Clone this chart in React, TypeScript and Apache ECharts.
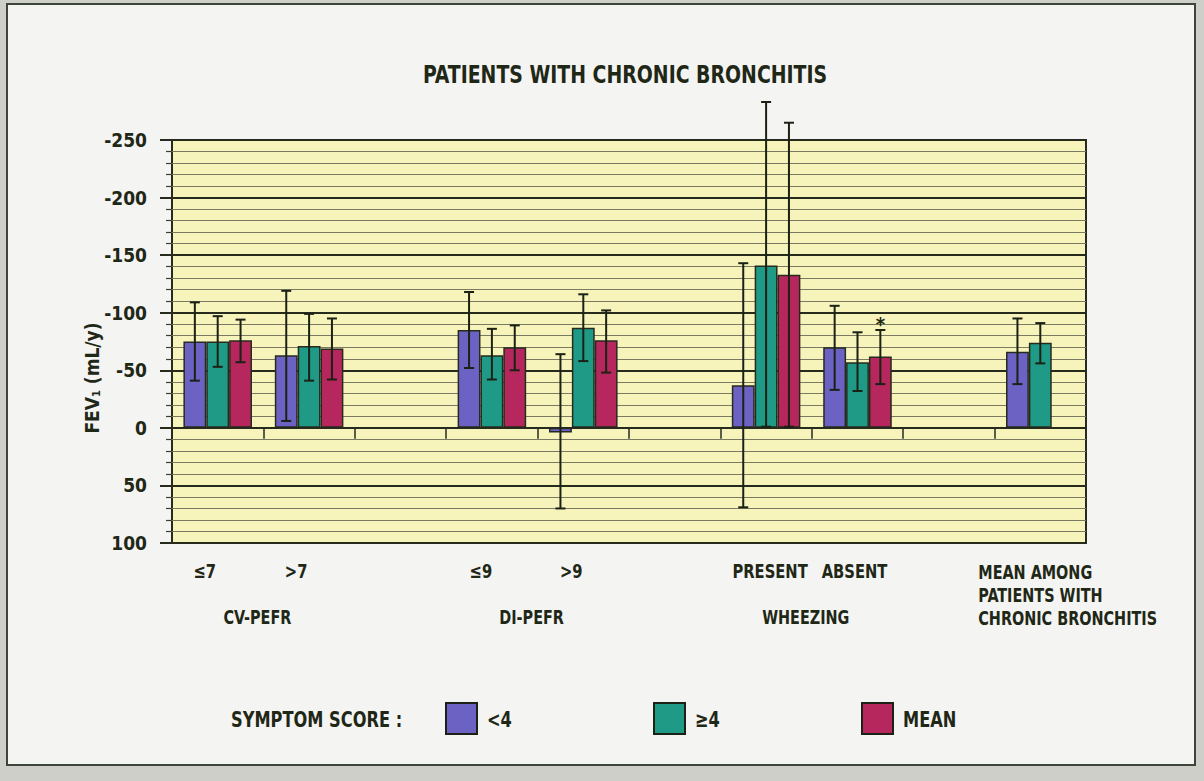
import React, { useEffect, useRef } from 'react';
import * as echarts from 'echarts';

// ---------- data ----------
const categories = ['≤7', '>7', ' ', '≤9', '>9', '  ', 'PRESENT', 'ABSENT', '   ', '    '];
const groupLabels = ['CV-PEFR', 'DI-PEFR', 'WHEEZING'];
const groupSpans = [[0, 1], [3, 4], [6, 7]];
const meanLabel = ['MEAN AMONG', 'PATIENTS WITH', 'CHRONIC BRONCHITIS'];
const meanLabelCategory = 9;
const seriesNames = ['<4', '≥4', 'MEAN'];
const legendTitle = 'SYMPTOM SCORE :';
const chartTitle = 'PATIENTS WITH CHRONIC BRONCHITIS';
const yMin = -250;
const yMax = 100;
const yInterval = 50;

const lowScore = [-75, -63, null, -85, 4, null, -37, -70, null, -66];
const highScore = [-75, -71, null, -63, -87, null, -141, -57, null, -74];
const meanScore = [-76, -69, null, -70, -76, null, -133, -62, null, null];

const lowScoreErr = [[-109, -41], [-119, -6], null, [-118, -52], [-64, 70], null, [-143, 69], [-106, -33], null, [-95, -38]];
const highScoreErr = [[-97, -53], [-99, -41], null, [-86, -42], [-116, -58], null, [-283, -1], [-83, -32], null, [-91, -56]];
const meanScoreErr = [[-94, -57], [-95, -42], null, [-89, -50], [-102, -48], null, [-265, -1], [-85, -38], null, null];

const annotations = [{ category: 7, series: 2, text: '*' }];

// ---------- style ----------
const FONT = "'DejaVu Sans Condensed', 'Liberation Sans Narrow', sans-serif";
const INK = '#1f2717';
const COLORS = ['#6c62c4', '#1f9a86', '#b6275d'];
// horizontal nudges of the category labels, in px (layout only)
const catLabelNudge = [-13, -13, 0, -11, -12, 0, 4, -3, 0, 0];

export default function App() {
  const ref = useRef<HTMLDivElement>(null);

  useEffect(() => {
    if (!ref.current) return;
    const chart = echarts.init(ref.current, null, { renderer: 'svg' });

    const values = [lowScore, highScore, meanScore];
    const errs = [lowScoreErr, highScoreErr, meanScoreErr];

    const barSeries = values.map((v, i) => ({
      type: 'bar',
      name: seriesNames[i],
      xAxisIndex: 0,
      yAxisIndex: 0,
      data: v,
      barWidth: '25%',
      barGap: '0%',
      itemStyle: { color: COLORS[i], borderColor: '#262b1e', borderWidth: 1.5 },
      z: 3,
    }));

    const errSeries = errs.map((e, idx) => ({
      type: 'custom',
      name: seriesNames[idx] + ' error',
      xAxisIndex: 0,
      yAxisIndex: 0,
      clip: false,
      z: 6,
      encode: { x: 0, y: [1, 2] },
      data: e.map((d, i) => (d ? [i, d[0], d[1]] : null)).filter((d) => d !== null),
      renderItem: (params: any, api: any) => {
        const c = api.value(0);
        const lo = api.value(1);
        const hi = api.value(2);
        const bw = api.size([1, 0])[0];
        const off = (idx - 1) * bw * 0.25;
        const top = api.coord([c, lo]);
        const bot = api.coord([c, hi]);
        const x = top[0] + off;
        const style = { stroke: '#1b2115', lineWidth: 2 };
        const children: any[] = [
          { type: 'line', shape: { x1: x, y1: top[1], x2: x, y2: bot[1] }, style },
          { type: 'line', shape: { x1: x - 5, y1: top[1], x2: x + 5, y2: top[1] }, style },
          { type: 'line', shape: { x1: x - 5, y1: bot[1], x2: x + 5, y2: bot[1] }, style },
        ];
        annotations.forEach((a) => {
          if (a.category === c && a.series === idx) {
            children.push({
              type: 'text',
              x: x,
              y: top[1] - 6,
              style: { text: a.text, fill: INK, font: `bold 20px ${FONT}`, align: 'center', verticalAlign: 'middle' },
            });
          }
        });
        return { type: 'group', children };
      },
    }));

    chart.setOption({
      animation: false,
      backgroundColor: '#cfcfca',
      grid: {
        left: 172,
        right: 118,
        top: 140,
        bottom: 238,
        show: true,
        backgroundColor: '#f6f4ba',
        borderColor: '#262b1e',
        borderWidth: 2,
      },
      xAxis: {
        type: 'category',
        data: categories,
        boundaryGap: true,
        axisLine: { onZero: true, lineStyle: { color: '#262b1e', width: 2 } },
        axisTick: { show: true, interval: 0, length: 11, lineStyle: { color: '#262b1e', width: 1.5 } },
        axisLabel: { show: false },
        splitLine: { show: false },
      },
      yAxis: {
        type: 'value',
        inverse: true,
        min: yMin,
        max: yMax,
        interval: yInterval,
        axisLine: { show: false },
        axisTick: { show: true, length: 12, lineStyle: { color: '#262b1e', width: 2 } },
        minorTick: { show: true, splitNumber: 5, length: 6, lineStyle: { color: '#3a3f30', width: 1.2 } },
        splitLine: { show: true, lineStyle: { color: '#262b1e', width: 2 } },
        minorSplitLine: { show: true, lineStyle: { color: '#7a7a62', width: 1 } },
        axisLabel: {
          margin: 25,
          fontFamily: FONT,
          fontWeight: 'bold',
          fontSize: 19,
          color: INK,
          formatter: (v: number) => String(v),
        },
      },
      series: [...barSeries, ...errSeries],
    });

    const px = (i: number) => chart.convertToPixel({ xAxisIndex: 0 }, i) as number;
    const txt = (text: string, x: number, y: number, size: number, sx: number, align = 'center') => ({
      type: 'text',
      x,
      y,
      scaleX: sx,
      style: { text, fill: INK, font: `bold ${size}px ${FONT}`, align, verticalAlign: 'middle' },
    });

    const graphic: any[] = [
      {
        type: 'rect',
        z: -100,
        shape: { x: 7, y: 4, width: 1188, height: 761 },
        style: { fill: '#f4f4f2', stroke: '#3d443a', lineWidth: 2 },
      },
      txt(chartTitle, 625, 74, 25, 0.84),
      {
        type: 'text',
        x: 92,
        y: 378,
        rotation: Math.PI / 2,
        style: {
          text: '{a|FEV}{s|1}{a| (mL/y)}',
          align: 'center',
          verticalAlign: 'middle',
          rich: {
            a: { fontFamily: FONT, fontWeight: 'bold', fontSize: 19, fill: INK, color: INK },
            s: { fontFamily: FONT, fontWeight: 'bold', fontSize: 11, fill: INK, color: INK, padding: [8, 0, 0, 0] },
          },
        },
      },
    ];
    categories.forEach((c, i) => {
      if (c.trim() === '') return;
      graphic.push(txt(c, px(i) + catLabelNudge[i], 571, 20, 0.82));
    });
    groupSpans.forEach((s, i) => {
      const cx = (px(s[0]) + px(s[1])) / 2 - 6;
      graphic.push(txt(groupLabels[i], cx, 617, 20, 0.8));
    });
    meanLabel.forEach((t, i) => {
      graphic.push(txt(t, px(meanLabelCategory) - 62, 572 + i * 23, 20, 0.8, 'left'));
    });
    // legend
    graphic.push(txt(legendTitle, 231, 719, 22, 0.82, 'left'));
    const legendX = [446, 654, 862];
    seriesNames.forEach((n, i) => {
      graphic.push({
        type: 'rect',
        shape: { x: legendX[i], y: 703, width: 31, height: 31 },
        style: { fill: COLORS[i], stroke: '#1b2115', lineWidth: 2 },
      });
      graphic.push(txt(n, legendX[i] + 41, 719, 22, 0.82, 'left'));
    });
    chart.setOption({ graphic });

    return () => chart.dispose();
  }, []);

  return <div ref={ref} style={{ position: 'fixed', left: 0, top: 0, width: 1204, height: 781 }} />;
}
